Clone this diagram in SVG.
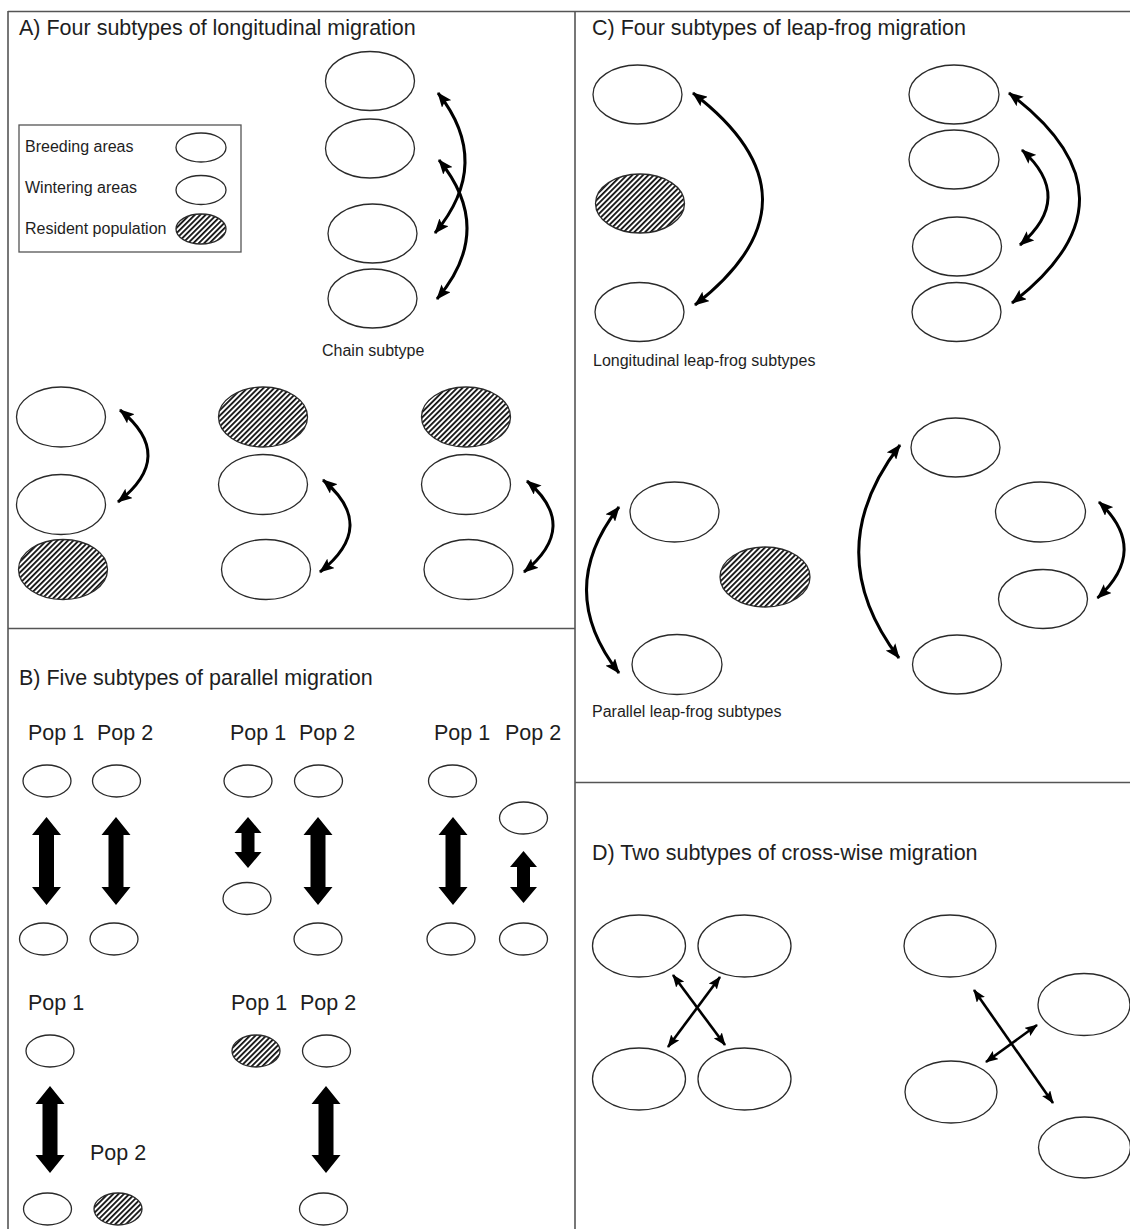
<svg xmlns="http://www.w3.org/2000/svg" width="1130" height="1229" viewBox="0 0 1130 1229">
<style>
  text { font-family: "Liberation Sans", Arial, sans-serif; fill: #1e1e1e; }
  .title { font-size: 21.5px; }
  .lbl { font-size: 16px; }
  .pop { font-size: 21.5px; }
  .e { fill: #fff; stroke: #2a2a2a; stroke-width: 1.3; }
  .h { fill: url(#hatch); stroke: #2a2a2a; stroke-width: 1.3; }
  .frame { stroke: #555; stroke-width: 1.6; fill: none; }
  .curve { fill: none; stroke: #000; stroke-width: 3; marker-start: url(#ah); marker-end: url(#ah); }
  .straight { fill: none; stroke: #000; stroke-width: 2.6; marker-start: url(#ahs); marker-end: url(#ahs); }
  .fat { fill: #000; stroke: none; }
</style>
<defs>
  <pattern id="hatch" patternUnits="userSpaceOnUse" width="3.8" height="3.8" patternTransform="rotate(45)">
    <rect width="3.8" height="3.8" fill="#fff"/>
    <rect x="0" y="0" width="1.8" height="3.8" fill="#111"/>
  </pattern>
  <marker id="ah" markerUnits="userSpaceOnUse" markerWidth="16" markerHeight="12" refX="14" refY="6" orient="auto-start-reverse">
    <path d="M0,0 L15,6 L0,12 L3,6 Z" fill="#000"/>
  </marker>
  <marker id="ahs" markerUnits="userSpaceOnUse" markerWidth="14" markerHeight="10" refX="12" refY="5" orient="auto-start-reverse">
    <path d="M0,0 L13,5 L0,10 L2.5,5 Z" fill="#000"/>
  </marker>
</defs>

<g id="frame">
  <line class="frame" x1="8" y1="11.5" x2="1130" y2="11.5"/>
  <line class="frame" x1="8" y1="11" x2="8" y2="1229"/>
  <line class="frame" x1="575" y1="11" x2="575" y2="1229"/>
  <line class="frame" x1="8" y1="628.5" x2="575" y2="628.5"/>
  <line class="frame" x1="575" y1="782.5" x2="1130" y2="782.5"/>
</g>

<g id="panel-A">
  <text class="title" x="19" y="35">A) Four subtypes of longitudinal migration</text>
  <g id="legend">
    <rect x="19" y="125" width="222" height="127" fill="#fff" stroke="#555" stroke-width="1.3"/>
    <text class="lbl" x="25" y="152">Breeding areas</text>
    <ellipse class="e" cx="201" cy="147.5" rx="25" ry="14.5"/>
    <text class="lbl" x="25" y="193">Wintering areas</text>
    <ellipse class="e" cx="201" cy="190" rx="25" ry="14.5"/>
    <text class="lbl" x="25" y="234">Resident population</text>
    <ellipse class="h" cx="201" cy="229" rx="25" ry="15"/>
  </g>
  <g id="chain">
    <ellipse class="e" cx="370" cy="81" rx="44.5" ry="29.5"/>
    <ellipse class="e" cx="370" cy="148.5" rx="44.5" ry="29.5"/>
    <ellipse class="e" cx="372.5" cy="233.5" rx="44.5" ry="29.5"/>
    <ellipse class="e" cx="372.5" cy="298.5" rx="44.5" ry="29.5"/>
    <text class="lbl" x="322" y="356">Chain subtype</text>
  </g>
  <g id="a-sub1">
    <ellipse class="e" cx="61" cy="417" rx="44.5" ry="30"/>
    <ellipse class="e" cx="61" cy="504.5" rx="44.5" ry="30"/>
    <ellipse class="h" cx="63" cy="569.5" rx="44.5" ry="30"/>
  </g>
  <g id="a-sub2">
    <ellipse class="h" cx="263" cy="417" rx="44.5" ry="30"/>
    <ellipse class="e" cx="263" cy="484.5" rx="44.5" ry="30"/>
    <ellipse class="e" cx="266" cy="569.5" rx="44.5" ry="30"/>
  </g>
  <g id="a-sub3">
    <ellipse class="h" cx="466" cy="417" rx="44.5" ry="30"/>
    <ellipse class="e" cx="466" cy="484.5" rx="44.5" ry="30"/>
    <ellipse class="e" cx="468.5" cy="569.5" rx="44.5" ry="30"/>
  </g>
</g>

<g id="panel-B">
  <text class="title" x="19" y="685">B) Five subtypes of parallel migration</text>
  <g id="b-sub1">
    <text class="pop" x="28" y="740">Pop 1</text>
    <text class="pop" x="97" y="740">Pop 2</text>
    <ellipse class="e" cx="47" cy="781" rx="24" ry="16"/>
    <ellipse class="e" cx="116.5" cy="781" rx="24" ry="16"/>
    <ellipse class="e" cx="43.5" cy="939" rx="24" ry="16"/>
    <ellipse class="e" cx="114" cy="939" rx="24" ry="16"/>
  </g>
  <g id="b-sub2">
    <text class="pop" x="230" y="740">Pop 1</text>
    <text class="pop" x="299" y="740">Pop 2</text>
    <ellipse class="e" cx="248" cy="781" rx="24" ry="16"/>
    <ellipse class="e" cx="318.5" cy="781" rx="24" ry="16"/>
    <ellipse class="e" cx="247" cy="898.5" rx="24" ry="16"/>
    <ellipse class="e" cx="318" cy="939" rx="24" ry="16"/>
  </g>
  <g id="b-sub3">
    <text class="pop" x="434" y="740">Pop 1</text>
    <text class="pop" x="505" y="740">Pop 2</text>
    <ellipse class="e" cx="452.5" cy="781" rx="24" ry="16"/>
    <ellipse class="e" cx="523.5" cy="818" rx="24" ry="16"/>
    <ellipse class="e" cx="451" cy="939" rx="24" ry="16"/>
    <ellipse class="e" cx="523.5" cy="939" rx="24" ry="16"/>
  </g>
  <g id="b-sub4">
    <text class="pop" x="28" y="1010">Pop 1</text>
    <text class="pop" x="90" y="1160">Pop 2</text>
    <ellipse class="e" cx="50" cy="1051" rx="24" ry="16"/>
    <ellipse class="e" cx="47.5" cy="1209" rx="24" ry="16"/>
    <ellipse class="h" cx="118" cy="1209" rx="24" ry="16"/>
  </g>
  <g id="b-sub5">
    <text class="pop" x="231" y="1010">Pop 1</text>
    <text class="pop" x="300" y="1010">Pop 2</text>
    <ellipse class="h" cx="256" cy="1051" rx="24" ry="16"/>
    <ellipse class="e" cx="326.5" cy="1051" rx="24" ry="16"/>
    <ellipse class="e" cx="323.5" cy="1209" rx="24" ry="16"/>
  </g>
</g>

<g id="panel-C">
  <text class="title" x="592" y="35">C) Four subtypes of leap-frog migration</text>
  <g id="c-long1">
    <ellipse class="e" cx="637.5" cy="94.5" rx="44.5" ry="29.5"/>
    <ellipse class="h" cx="640" cy="203.5" rx="44.5" ry="29.5"/>
    <ellipse class="e" cx="639.5" cy="312" rx="44.5" ry="29.5"/>
  </g>
  <g id="c-long2">
    <ellipse class="e" cx="954" cy="94.5" rx="45" ry="29.5"/>
    <ellipse class="e" cx="954" cy="159.5" rx="45" ry="29.5"/>
    <ellipse class="e" cx="957" cy="246.5" rx="44.5" ry="29.5"/>
    <ellipse class="e" cx="956.5" cy="312" rx="44.5" ry="29.5"/>
  </g>
  <text class="lbl" x="593" y="366">Longitudinal leap-frog subtypes</text>
  <g id="c-par1">
    <ellipse class="e" cx="674.5" cy="512" rx="44.5" ry="30"/>
    <ellipse class="h" cx="765" cy="577" rx="45" ry="30"/>
    <ellipse class="e" cx="677" cy="664.5" rx="45" ry="30"/>
  </g>
  <g id="c-par2">
    <ellipse class="e" cx="955.5" cy="447.5" rx="44.5" ry="29.5"/>
    <ellipse class="e" cx="1040.5" cy="512" rx="45" ry="30"/>
    <ellipse class="e" cx="1043" cy="599" rx="44.5" ry="29.5"/>
    <ellipse class="e" cx="957" cy="664.5" rx="44.5" ry="29.5"/>
  </g>
  <text class="lbl" x="592" y="717">Parallel leap-frog subtypes</text>
</g>

<g id="panel-D">
  <text class="title" x="592" y="860">D) Two subtypes of cross-wise migration</text>
  <g id="d-sub1">
    <ellipse class="e" cx="639" cy="946" rx="46.5" ry="31"/>
    <ellipse class="e" cx="744.5" cy="946" rx="46.5" ry="31"/>
    <ellipse class="e" cx="639" cy="1079" rx="46.5" ry="31"/>
    <ellipse class="e" cx="744.5" cy="1079" rx="46.5" ry="31"/>
  </g>
  <g id="d-sub2">
    <ellipse class="e" cx="950" cy="946" rx="46" ry="31"/>
    <ellipse class="e" cx="1084" cy="1004.5" rx="46" ry="31"/>
    <ellipse class="e" cx="951" cy="1092" rx="46" ry="31"/>
    <ellipse class="e" cx="1084.5" cy="1147.5" rx="46" ry="30.5"/>
  </g>
</g>

<g id="connectors">
  <path class="curve" d="M438,93 Q493.5,163 435,233"/>
  <path class="curve" d="M439,160 Q496,229.5 437,299"/>
  <path class="curve" d="M120,410 Q177,456 118,502"/>
  <path class="curve" d="M323,480 Q378.5,526 320,572"/>
  <path class="curve" d="M527,481 Q580.5,526.5 524,572"/>
  <path class="curve" d="M693,93 Q831,199 695,305"/>
  <path class="curve" d="M1009,93 Q1148.5,198 1012,303"/>
  <path class="curve" d="M1022,150 Q1075,197.5 1020,245"/>
  <path class="curve" d="M619,507 Q554,590 619,673"/>
  <path class="curve" d="M900,445 Q818,551.5 899,658"/>
  <path class="curve" d="M1099,502 Q1150,550 1097.5,598"/>
  <path class="straight" d="M673,975 L725,1045"/>
  <path class="straight" d="M720,977 L668,1047"/>
  <path class="straight" d="M974,990 L1053,1103"/>
  <path class="straight" d="M1037,1025 L986,1062"/>
  <path class="fat" d="M46.5,817 L61,835 L54,835 L54,887 L61,887 L46.5,905 L32,887 L39,887 L39,835 L32,835 Z"/>
  <path class="fat" d="M116,817 L130.5,835 L123.5,835 L123.5,887 L130.5,887 L116,905 L101.5,887 L108.5,887 L108.5,835 L101.5,835 Z"/>
  <path class="fat" d="M248,817 L261.5,833 L254.5,833 L254.5,852 L261.5,852 L248,868 L234.5,852 L241.5,852 L241.5,833 L234.5,833 Z"/>
  <path class="fat" d="M318,817 L332.5,835 L325.5,835 L325.5,887 L332.5,887 L318,905 L303.5,887 L310.5,887 L310.5,835 L303.5,835 Z"/>
  <path class="fat" d="M453,817 L467.5,835 L460.5,835 L460.5,887 L467.5,887 L453,905 L438.5,887 L445.5,887 L445.5,835 L438.5,835 Z"/>
  <path class="fat" d="M523.5,851 L537,867 L530,867 L530,887 L537,887 L523.5,903 L510,887 L517,887 L517,867 L510,867 Z"/>
  <path class="fat" d="M50,1086 L64.5,1104 L57.5,1104 L57.5,1155 L64.5,1155 L50,1173 L35.5,1155 L42.5,1155 L42.5,1104 L35.5,1104 Z"/>
  <path class="fat" d="M326,1086 L340.5,1104 L333.5,1104 L333.5,1155 L340.5,1155 L326,1173 L311.5,1155 L318.5,1155 L318.5,1104 L311.5,1104 Z"/>
</g>
</svg>
